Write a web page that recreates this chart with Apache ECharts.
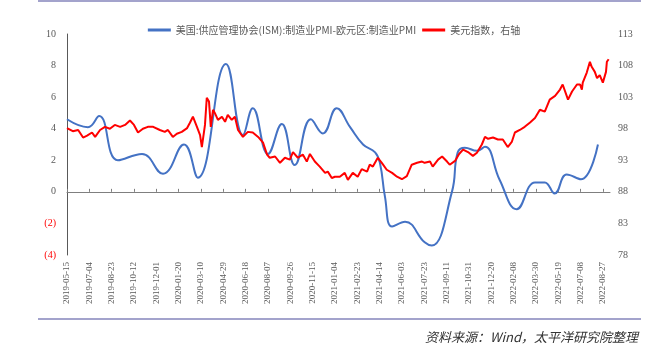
<!DOCTYPE html>
<html>
<head>
<meta charset="utf-8">
<script src="https://cdn.jsdelivr.net/npm/echarts@6/dist/echarts.min.js"></script>
<style>
  html, body { margin: 0; padding: 0; background: #fff; }
  #chart { width: 668px; height: 351px; }
</style>
</head>
<body>
<div id="chart"></div>
<script>
// 日期轴：2019-05-15 起逐日，共 1217 天
const startDate = '2019-05-15';
const dayCount = 1217;

// 美国ISM制造业PMI - 欧元区制造业PMI（左轴）
const pmiDate = [
  '2019-05-15', '2019-07-01', '2019-07-26', '2019-09-06', '2019-10-30', '2019-12-16',
  '2020-02-01', '2020-03-03', '2020-05-05', '2020-06-12', '2020-07-04', '2020-08-07',
  '2020-09-07', '2020-10-06', '2020-11-11', '2020-12-08', '2021-01-08', '2021-02-07',
  '2021-03-08', '2021-04-04', '2021-04-15', '2021-04-26', '2021-05-12', '2021-06-10',
  '2021-07-24', '2021-08-09', '2021-09-23', '2021-10-06', '2021-10-22', '2021-11-18',
  '2021-12-06', '2022-01-08', '2022-02-15', '2022-03-28', '2022-04-19', '2022-05-11',
  '2022-06-07', '2022-07-09', '2022-08-16'
];
const pmiGap = [
  4.6, 4.1, 4.8, 2.0, 2.4, 1.15,
  3.0, 0.9, 8.1, 3.6, 5.3, 2.4,
  4.3, 1.7, 4.6, 3.7, 5.3, 4.1,
  3.0, 2.5, 1.8, -0.3, -2.2, -1.9,
  -3.2, -3.4, 0.0, 2.5, 2.8, 2.6,
  2.85, 0.75, -1.1, 0.6, 0.6, -0.1,
  1.1, 0.8, 3.0
];

// 美元指数（右轴），usdDay 为距 2019-05-15 的天数
const usdDay = [
  0, 13, 25, 36, 45, 56, 63, 74, 85, 96, 107, 119, 130, 141, 150, 159, 170, 181, 193,
  197, 208, 219, 226, 237, 246, 257, 269, 275, 282, 291, 298, 302, 309, 313, 318, 322,
  327, 331, 338, 347, 354, 360, 369, 376, 383, 394,
  405, 416, 428, 439, 448, 454, 466, 477, 488, 499, 506, 517, 528, 537, 544, 555, 566,
  578, 584, 593, 600,
  611, 622, 629, 640, 651, 660, 672, 678, 685, 696, 705, 716, 728, 739, 750, 761, 772,
  784, 795, 801,
  813, 819, 831, 840, 851, 857, 869, 878, 887, 898, 909, 918, 929, 936, 943, 954, 965,
  976, 987, 996, 1003,
  1014, 1025, 1037, 1048, 1059, 1070, 1081, 1093, 1104, 1110, 1122, 1131, 1142, 1149,
  1153, 1155, 1164, 1171, 1175, 1182, 1187, 1193, 1200, 1207, 1209, 1213
];
const usdValue = [
  98.1, 97.6, 97.8, 96.6, 96.9, 97.4, 96.7, 97.8, 98.3, 98.0, 98.6, 98.3, 98.6, 99.3, 98.6, 97.4, 98.0, 98.3, 98.3,
  98.3, 97.8, 97.5, 97.8, 96.7, 97.2, 97.5, 98.1, 98.9, 99.9, 98.3, 97.0, 95.1, 98.6, 102.9, 102.3, 98.3,
  101.0, 100.5, 99.4, 99.9, 99.1, 100.2, 99.4, 99.9, 97.8, 96.7,
  97.5, 97.4, 96.7, 95.8, 93.9, 93.4, 93.6, 92.6, 93.4, 93.1, 94.3, 93.4, 93.9, 92.8, 94.0, 92.8, 92.0,
  91.0, 91.2, 90.2, 90.4,
  90.4, 91.0, 89.9, 91.0, 90.4, 91.6, 91.2, 92.3, 92.0, 93.4, 92.6, 91.5, 91.0, 90.4, 90.0, 90.5, 92.3,
  92.6, 92.8, 92.6,
  92.8, 92.0, 93.1, 93.6, 92.8, 92.3, 92.9, 94.0, 94.7, 94.3, 93.7, 94.2, 95.5, 96.7, 96.4, 96.6, 96.3,
  96.3, 95.1, 95.9, 97.4,
  97.8, 98.3, 99.0, 99.7, 101.0, 100.7, 102.6, 103.2, 104.2, 105.0, 102.6, 103.9, 105.0, 105.0,
  104.2, 105.3, 106.9, 108.6, 107.8, 107.0, 106.0, 106.5, 105.3, 107.0, 108.6, 109.0
];

function buildDates(start, n) {
  const out = [];
  const t0 = Date.parse(start + 'T00:00:00Z');
  for (let i = 0; i < n; i++) {
    out.push(new Date(t0 + i * 86400000).toISOString().slice(0, 10));
  }
  return out;
}

const dates = buildDates(startDate, dayCount);
const labelFont = 'Liberation Serif, Times New Roman, serif';
const cjkFont = 'Noto Sans CJK SC, sans-serif';

const options = {
  animation: false,
  color: ['#4472C4', '#FF0000'],
  legend: {
    left: 'center',
    top: 20,
    icon: 'rect',
    itemWidth: 23,
    itemHeight: 3,
    itemGap: 6,
    textStyle: { fontFamily: cjkFont, fontSize: 10, color: '#595959' },
    data: ['美国:供应管理协会(ISM):制造业PMI-欧元区:制造业PMI', '美元指数，右轴']
  },
  grid: { left: 67, right: 58, top: 34, bottom: 96 },
  xAxis: [
    {
      // 零轴线
      type: 'category',
      data: dates,
      boundaryGap: false,
      axisLine: { onZero: true, lineStyle: { color: '#7F7F7F', width: 1 } },
      axisTick: { show: true, interval: 49, length: 3, inside: true, lineStyle: { color: '#7F7F7F' } },
      axisLabel: { show: false },
      splitLine: { show: false }
    },
    {
      // 底部日期标签
      type: 'category',
      data: dates,
      boundaryGap: false,
      position: 'bottom',
      axisLine: { show: false, onZero: false },
      axisTick: { show: false },
      axisLabel: {
        interval: 49,
        rotate: 90,
        margin: 7,
        fontFamily: labelFont,
        fontSize: 9,
        color: '#595959'
      },
      splitLine: { show: false }
    }
  ],
  yAxis: [
    {
      type: 'value',
      min: -4,
      max: 10,
      interval: 2,
      axisLine: { show: true, lineStyle: { color: '#595959', width: 1 } },
      axisTick: { show: false },
      splitLine: { show: false },
      axisLabel: {
        margin: 11,
        fontFamily: labelFont,
        fontSize: 10,
        color: function (v) { return Number(v) < 0 ? '#FF0000' : '#595959'; },
        formatter: function (v) { return v < 0 ? '(' + (-v) + ')' : String(v); }
      }
    },
    {
      type: 'value',
      min: 78,
      max: 113,
      interval: 5,
      position: 'right',
      axisLine: { show: false },
      axisTick: { show: false },
      splitLine: { show: false },
      axisLabel: { margin: 8, fontFamily: labelFont, fontSize: 10, color: '#595959' }
    }
  ],
  series: [
    {
      name: '美国:供应管理协会(ISM):制造业PMI-欧元区:制造业PMI',
      type: 'line',
      xAxisIndex: 0,
      yAxisIndex: 0,
      smooth: 0.45,
      showSymbol: false,
      lineStyle: { width: 2, color: '#4472C4' },
      data: pmiDate.map((d, i) => [d, pmiGap[i]])
    },
    {
      name: '美元指数，右轴',
      type: 'line',
      xAxisIndex: 0,
      yAxisIndex: 1,
      showSymbol: false,
      lineStyle: { width: 2, color: '#FF0000' },
      data: usdDay.map((d, i) => [dates[d], usdValue[i]])
    }
  ],
  graphic: [
    { type: 'line', shape: { x1: 38, y1: 1, x2: 641, y2: 1 }, style: { stroke: '#A3A3CC', lineWidth: 2 } },
    { type: 'line', shape: { x1: 38, y1: 319, x2: 641, y2: 319 }, style: { stroke: '#A3A3CC', lineWidth: 2 } },
    {
      type: 'text',
      right: 30,
      top: 331,
      style: {
        text: '资料来源：Wind，太平洋研究院整理',
        font: 'italic 13px Noto Sans CJK SC, sans-serif',
        fill: '#333333'
      }
    }
  ]
};

const E = echarts.init(document.getElementById('chart'));
window.onresize = function () {
  E.resize();
};
E.setOption(options);
</script>
</body>
</html>
